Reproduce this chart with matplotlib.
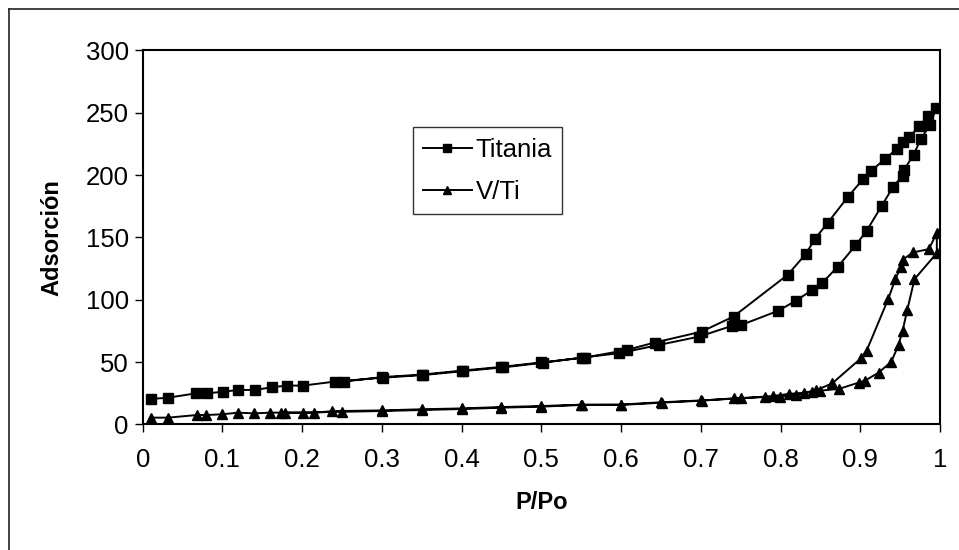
import numpy as np
import matplotlib
matplotlib.use("Agg")
import matplotlib.pyplot as plt
from matplotlib.lines import Line2D

plt.rcParams['font.family'] = ['Liberation Sans', 'DejaVu Sans']

# Titania: rama de adsorción y de desorción
titania_ads_p = [0.011, 0.032, 0.067, 0.081, 0.101, 0.120, 0.141, 0.162, 0.181, 0.201,
                 0.241, 0.302, 0.351, 0.402, 0.452, 0.502, 0.551, 0.598, 0.648, 0.698,
                 0.739, 0.751, 0.797, 0.819, 0.840, 0.852, 0.872, 0.894, 0.908, 0.927,
                 0.941, 0.953, 0.955, 0.967, 0.976, 0.988, 0.995]
titania_ads_v = [20.5, 21.5, 25.0, 25.0, 26.3, 27.7, 27.7, 29.9, 31.2, 31.2,
                 34.4, 37.6, 39.6, 42.8, 45.8, 49.5, 53.7, 57.2, 63.9, 70.5,
                 79.1, 79.9, 91.2, 99.2, 108.0, 113.4, 126.7, 143.6, 155.4, 175.5,
                 190.5, 199.6, 204.4, 216.5, 229.1, 240.6, 254.0]
titania_des_p = [0.985, 0.974, 0.961, 0.953, 0.946, 0.931, 0.914, 0.904, 0.884, 0.859,
                 0.843, 0.832, 0.809, 0.741, 0.701, 0.642, 0.607, 0.555, 0.500, 0.450,
                 0.400, 0.350, 0.300, 0.252]
titania_des_v = [247.2, 239.2, 230.4, 226.3, 221.0, 213.0, 203.6, 197.2, 182.2, 161.6,
                 148.8, 137.0, 120.1, 86.6, 74.5, 65.7, 59.8, 53.7, 49.8, 46.2,
                 43.2, 40.0, 38.0, 34.4]

# V/Ti: rama de adsorción y de desorción
vti_ads_p = [0.010, 0.032, 0.068, 0.080, 0.100, 0.120, 0.140, 0.160, 0.178, 0.201,
             0.250, 0.300, 0.350, 0.400, 0.450, 0.500, 0.551, 0.600, 0.651, 0.701,
             0.741, 0.780, 0.799, 0.820, 0.839, 0.849, 0.873, 0.898, 0.906, 0.923,
             0.939, 0.948, 0.953, 0.959, 0.968, 0.996, 0.996]
vti_ads_v = [5.5, 5.5, 7.6, 7.6, 8.2, 9.5, 8.9, 9.5, 9.5, 9.5,
             10.2, 10.8, 11.6, 12.4, 13.5, 14.3, 15.7, 15.7, 17.5, 19.1,
             21.0, 22.0, 22.3, 23.7, 26.3, 27.1, 28.5, 33.6, 35.2, 41.6,
             50.4, 63.9, 75.1, 92.0, 116.6, 137.5, 153.6]
vti_des_p = [0.986, 0.966, 0.953, 0.951, 0.944, 0.935, 0.908, 0.901, 0.865, 0.845,
             0.830, 0.810, 0.790, 0.751, 0.700, 0.650, 0.600, 0.550, 0.500, 0.450,
             0.400, 0.350, 0.300, 0.238, 0.215, 0.174]
vti_des_v = [140.7, 138.0, 132.1, 126.7, 116.6, 100.6, 59.3, 53.2, 33.1, 27.5,
             25.5, 24.5, 22.8, 21.0, 19.3, 17.8, 16.0, 15.9, 14.8, 14.0,
             12.9, 12.2, 11.3, 10.7, 9.5, 9.5]

x_ticks = np.round(np.arange(0, 1.01, 0.1), 1)
x_tick_labels = ['0', '0.1', '0.2', '0.3', '0.4', '0.5', '0.6', '0.7', '0.8', '0.9', '1']
y_ticks = [0, 50, 100, 150, 200, 250, 300]

fig = plt.figure(figsize=(9.59, 5.5), dpi=100)
ax = fig.add_axes([0.1488, 0.2282, 0.8314, 0.68])

ax.plot(titania_ads_p + titania_des_p, titania_ads_v + titania_des_v,
        color='black', lw=1.4, marker='s', markersize=7.5, label='Titania')
ax.plot(vti_ads_p + vti_des_p, vti_ads_v + vti_des_v,
        color='black', lw=1.4, marker='^', markersize=7, label='V/Ti')

ax.set_xlim(0, 1)
ax.set_ylim(0, 300)
ax.set_xticks(x_ticks)
ax.set_xticklabels(x_tick_labels)
ax.set_yticks(y_ticks)
ax.tick_params(axis='both', direction='out', length=6, width=1, labelsize=18.5, colors='black')
ax.tick_params(axis='x', pad=11)
ax.tick_params(axis='y', pad=4)
for s in ax.spines.values():
    s.set_linewidth(1.5)
    s.set_color('black')

ax.set_xlabel('P/Po', fontsize=17, fontweight='bold')
ax.set_ylabel('Adsorción', fontsize=17, fontweight='bold')
ax.xaxis.set_label_coords(0.5, -0.178)
ax.yaxis.set_label_coords(-0.1, 0.5)

leg = ax.legend(loc='upper left', bbox_to_anchor=(0.3386, 0.7947), fontsize=18.5,
                frameon=True, fancybox=False, shadow=False, borderpad=0.4,
                handlelength=1.9, handletextpad=0.15, labelspacing=0.7,
                borderaxespad=0, markerscale=0.75)
leg.get_frame().set_edgecolor('black')
leg.get_frame().set_linewidth(1.0)

# marco exterior del gráfico
fx = 8.7 / 959
fy = 1 - 8.7 / 550
fig.add_artist(Line2D([fx, 1], [fy, fy], transform=fig.transFigure, color='#222222', lw=1.2))
fig.add_artist(Line2D([fx, fx], [0, fy], transform=fig.transFigure, color='#222222', lw=1.2))

fig.savefig('out.png', dpi=100)
